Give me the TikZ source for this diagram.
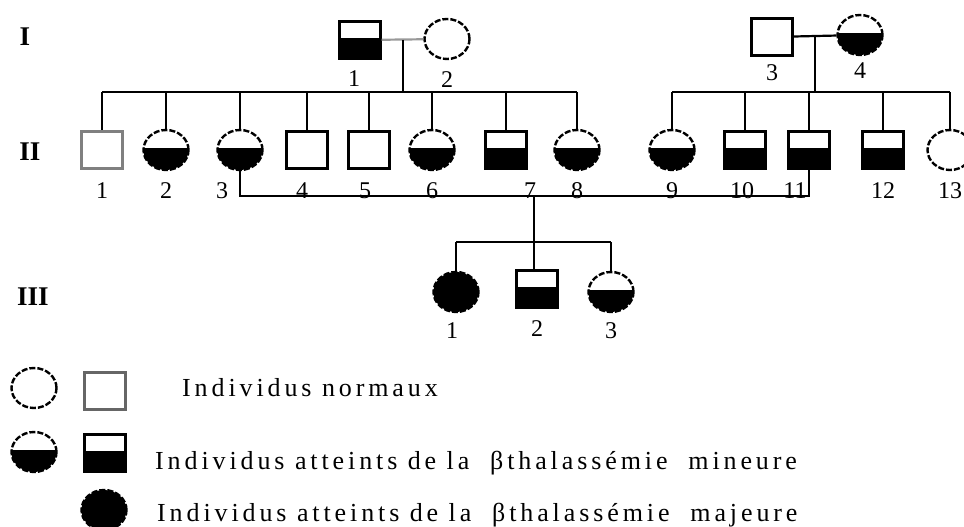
\documentclass[tikz,border=0pt]{standalone}
\usepackage{fontspec}
\setmainfont{Liberation Serif}
\newfontfamily\legendfont[LetterSpace=15]{Liberation Serif}
\usetikzlibrary{shapes.geometric}
\tikzset{
  every node/.style={font=\rmfamily},
  every label/.style={font=\fontsize{24}{24}\selectfont, inner sep=0pt}
}

\begin{document}
\begin{tikzpicture}[x=1pt,y=-1pt]
  \tikzset{
    male/.style={
      draw,
      rectangle,
      minimum width=41pt,
      minimum height=37pt,
      inner sep=0pt,
      line width=2.4pt
    },
    female/.style={
      draw,
      ellipse,
      minimum width=45pt,
      minimum height=40pt,
      inner sep=0pt,
      line width=2.4pt,
      dash pattern=on 6pt off 2pt
    },
    carrier/.style={
      path picture={
        \fill ([yshift=2pt]path picture bounding box.west)
          rectangle (path picture bounding box.south east);
      }
    },
    affected/.style={fill=black},
    line/.style={
      draw=black,
      line width=2.2pt
    },
    gen/.style={font=\fontsize{27}{27}\selectfont\bfseries},
    legtext/.style={font=\fontsize{26}{26}\selectfont\legendfont, anchor=west, inner sep=0pt}
  }
  \useasboundingbox (0,0) rectangle (964,527);

  % Generation labels
  \node[gen] (g1) at (25,37) {I};
  \node[gen] (g2) at (30,152) {II};
  \node[gen] (g3) at (33,297) {III};

  % Generation I
  \node[male, carrier, label={[label distance=11pt, xshift=-6pt]below:1}] (I1) at (360,40) {};
  \node[female, label={[label distance=11pt]below:2}] (I2) at (447,39) {};
  \node[male, label={[label distance=8pt]below:3}] (I3) at (772,37) {};
  \node[female, carrier, label={[label distance=6pt]below:4}] (I4) at (860,35) {};

  % Generation II
  \node[male, draw=black!50, label={[label distance=13pt]below:1}] (II1) at (102,150) {};
  \node[female, carrier, label={[label distance=11pt]below:2}] (II2) at (166,150) {};
  \node[female, carrier, label={[label distance=11pt, xshift=-18pt]below:3}] (II3) at (240,150) {};
  \node[male, label={[label distance=13pt, xshift=-5pt]below:4}] (II4) at (307,150) {};
  \node[male, label={[label distance=13pt, xshift=-4pt]below:5}] (II5) at (369,150) {};
  \node[female, carrier, label={[label distance=11pt]below:6}] (II6) at (432,150) {};
  \node[male, carrier, label={[label distance=13pt, xshift=24pt]below:7}] (II7) at (506,150) {};
  \node[female, carrier, label={[label distance=11pt]below:8}] (II8) at (577,150) {};
  \node[female, carrier, label={[label distance=11pt]below:9}] (II9) at (672,150) {};
  \node[male, carrier, label={[label distance=13pt, xshift=-3pt]below:10}] (II10) at (745,150) {};
  \node[male, carrier, label={[label distance=13pt, xshift=-14pt]below:11}] (II11) at (809,150) {};
  \node[male, carrier, label={[label distance=13pt]below:12}] (II12) at (883,150) {};
  \node[female, label={[label distance=11pt]below:13}] (II13) at (950,150) {};

  % Generation III
  \node[female, affected, label={[label distance=9pt, xshift=-4pt]below:1}] (III1) at (456,292) {};
  \node[male, carrier, label={[label distance=12pt]below:2}] (III2) at (537,289) {};
  \node[female, carrier, label={[label distance=9pt]below:3}] (III3) at (611,292) {};

  % Couples
  \draw[line, draw=black!40] (I1) -- (I2);
  \draw[line] (I3) -- (I4);
  \coordinate (m1) at (403,40);
  \coordinate (m2) at (815,36);
  \coordinate (m3) at (534,196);

  % Sibships
  \coordinate (s1) at (403,92);
  \coordinate (s2) at (815,92);
  \coordinate (s3) at (534,242);
  \draw[line] (m1) -- (s1);
  \draw[line] (m2) -- (s2);
  \draw[line] (II1.north |- s1) -- (II8.north |- s1);
  \draw[line] (II9.north |- s2) -- (II13.north |- s2);
  \foreach \i in {1,...,8} {
    \draw[line] (II\i.north |- s1) -- (II\i.north);
  }
  \foreach \i in {9,...,13} {
    \draw[line] (II\i.north |- s2) -- (II\i.north);
  }
  \draw[line] (II3.south) |- (m3) -| (II11.south);
  \draw[line] (m3) -- (m3 |- III2.north);
  \draw[line] (III1.north |- s3) -- (III3.north |- s3);
  \foreach \i in {1,3} {
    \draw[line] (III\i.north |- s3) -- (III\i.north);
  }

  % Legend
  \node[female] (l1) at (34,388) {};
  \node[male, draw=black!60] (l2) at (105,391) {};
  \node[female, carrier] (l3) at (34,452) {};
  \node[male, carrier] (l4) at (105,453) {};
  \node[female, affected] (l5) at (104,510) {};
  \node[legtext] (t1) at (182,388) {Individus normaux};
  \node[legtext] (t2) at (155,463) {Individus atteints de la \ βthalassémie \ mineure};
  \node[legtext] (t3) at (157,515) {Individus atteints de la \ βthalassémie \ majeure};
\end{tikzpicture}
\end{document}
